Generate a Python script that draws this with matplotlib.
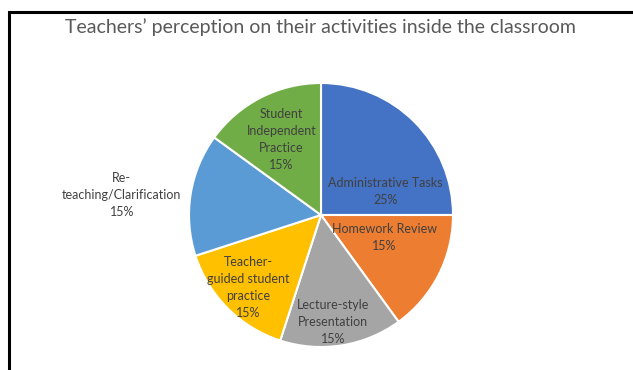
import numpy as np
import matplotlib.pyplot as plt
from matplotlib.patches import Rectangle

# data
categories = ['Administrative Tasks', 'Homework Review', 'Lecture-style\nPresentation',
              'Teacher-\nguided student\npractice', 'Re-\nteaching/Clarification',
              'Student\nIndependent\nPractice']
shares = [25, 15, 15, 15, 15, 15]
colors = ['#4472C4', '#ED7D31', '#A5A5A5', '#FFC000', '#5B9BD5', '#70AD47']

# label offsets, in units of the radius (dx, dy)
label_off = [(0.49, 0.18), (0.48, -0.17), (0.09, -0.81),
             (-0.55, -0.55), (-1.51, 0.15), (-0.30, 0.57)]

plt.rcParams['font.family'] = ['Lato', 'DejaVu Sans']

W, H = 633, 370
fig = plt.figure(figsize=(W / 100, H / 100), dpi=100)
ax = fig.add_axes([0, 0, 1, 1])

cx, cy, R = 321, H - 215, 132
ax.pie(shares, colors=colors, startangle=90, counterclock=False,
       center=(cx, cy), radius=R, frame=True,
       wedgeprops=dict(edgecolor='white', linewidth=1.5))
ax.set_xlim(0, W)
ax.set_ylim(0, H)
ax.set_aspect('equal')
ax.axis('off')

for (lab, val), (dx, dy) in zip(zip(categories, shares), label_off):
    ax.text(cx + dx * R, cy + dy * R, '%s\n%d%%' % (lab, val),
            ha='center', va='center', fontsize=9, color='#404040',
            linespacing=1.5)

ax.text(320, H - 27, 'Teachers\u2019 perception on their activities inside the classroom',
        ha='center', va='center', fontsize=14, color='#595959')

# frame around the chart (cropped at right and bottom)
ax.add_patch(Rectangle((9, -10), W + 20, H - 2, fill=False,
                       edgecolor='black', linewidth=2.2, clip_on=False))

fig.savefig('out.png', dpi=100)
